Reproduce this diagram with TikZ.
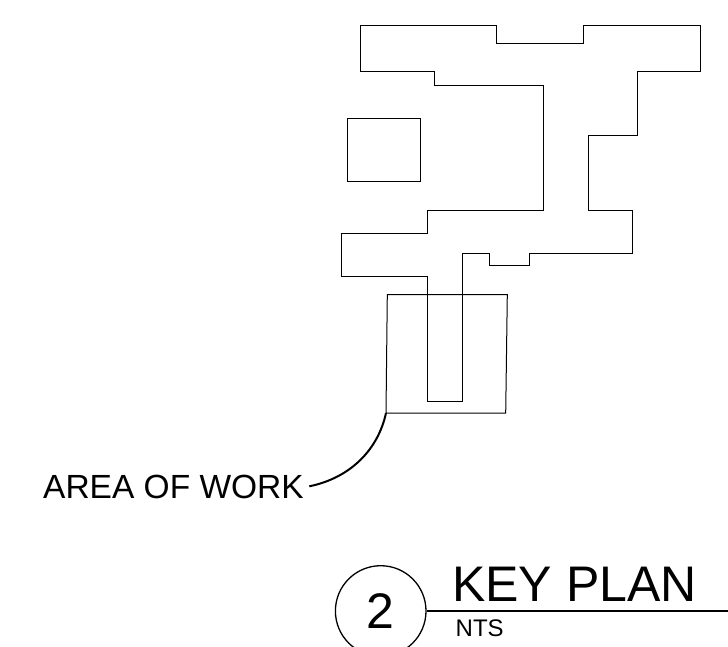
\documentclass[tikz,border=0pt]{standalone}
\usepackage{fontspec}
\setmainfont{Liberation Sans}
\tikzset{
  plan/.style={draw=black,line width=1pt,line join=miter},
  leaderline/.style={draw=black,line width=2pt},
  titleline/.style={draw=black,line width=1.4pt},
  label/.style={inner sep=0pt,anchor=base west,text=black}
}
\begin{document}
\begin{tikzpicture}[x=1pt,y=-1pt]
\useasboundingbox (0,0) rectangle (728,646);
\clip (0,0) rectangle (728,646);
% building outline
\draw[plan] (360.3,25.7) -- (496.7,25.7) -- (496.7,43.3) -- (583,43.3) -- (583,25.7) -- (700.3,25.7) -- (700.3,71) -- (637.7,71) -- (637.7,135.7) -- (588.3,135.7) -- (588.3,210) -- (632.3,210) -- (632.3,253) -- (529.7,253) -- (529.7,265.7) -- (489,265.7) -- (489,253) -- (462.3,253) -- (462.3,401) -- (427.3,401) -- (427.3,276.3) -- (341,276.3) -- (341,233.7) -- (427.3,233.7) -- (427.3,210) -- (543,210) -- (543,85.3) -- (434.7,85.3) -- (434.7,71) -- (360.3,71) -- cycle;
% separate building
\draw[plan] (347,118.3) rectangle (420.3,181);
% area of work
\draw[plan] (387.3,294.7) -- (507.3,294.7) -- (505.7,413) -- (386,413) -- cycle;
\coordinate (areacorner) at (386,413);
\node[label,font=\fontsize{33.5}{33.5}\selectfont] (arealabel) at (43,498) {AREA OF WORK};
\coordinate (leaderend) at (309.3,486.3);
\draw[leaderline] (areacorner) .. controls (378,450) and (350,478) .. (leaderend);
% title block
\node[circle,draw=black,line width=1.3pt,minimum size=90.6pt,inner sep=0pt,font=\fontsize{50}{50}\selectfont] (num) at (380.7,611) {2};
\coordinate (lineend) at (728,611);
\draw[titleline] (num.east) -- (lineend);
\node[label,font=\fontsize{50}{50}\selectfont] (title) at (452,601) {KEY PLAN};
\node[label,font=\fontsize{24}{24}\selectfont] (nts) at (455.5,636) {NTS};
\end{tikzpicture}
\end{document}
